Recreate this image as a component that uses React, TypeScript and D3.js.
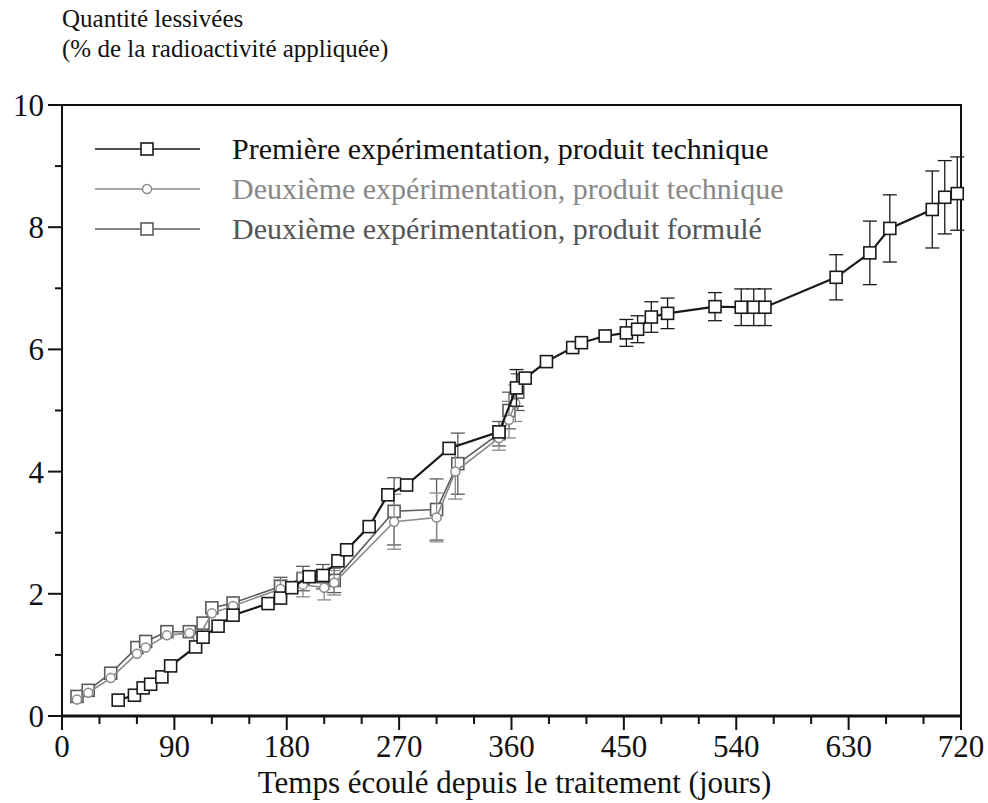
import React from "react";
import * as d3 from "d3";

// ---- data ----
const days1 = [45, 58, 65, 71, 80, 87, 107, 113, 125, 137, 165, 175, 184, 198, 209, 221, 228, 246, 261, 276, 310, 350, 364, 371, 388, 409, 416, 435, 452, 461, 472, 485, 523, 544, 554, 563, 620, 647, 663, 697, 707, 717];
const vals1 = [0.26, 0.34, 0.46, 0.52, 0.64, 0.82, 1.13, 1.29, 1.47, 1.65, 1.84, 1.93, 2.1, 2.28, 2.3, 2.54, 2.72, 3.1, 3.62, 3.78, 4.38, 4.65, 5.37, 5.53, 5.8, 6.03, 6.11, 6.22, 6.27, 6.33, 6.53, 6.59, 6.7, 6.69, 6.69, 6.69, 7.18, 7.58, 7.98, 8.29, 8.49, 8.55];
const errs1 = [0, 0, 0, 0, 0, 0, 0, 0, 0, 0, 0, 0, 0, 0, 0, 0, 0, 0, 0, 0, 0, 0, 0.3, 0, 0, 0, 0, 0, 0.22, 0.22, 0.25, 0.25, 0.23, 0.3, 0.3, 0.3, 0.37, 0.52, 0.55, 0.63, 0.6, 0.6];

const days2 = [12, 21, 39, 60, 67, 84, 102, 109, 120, 137, 175, 193, 210, 218, 266, 300, 315, 350, 358, 363];
const vals2 = [0.27, 0.38, 0.62, 1.02, 1.12, 1.32, 1.36, 1.28, 1.68, 1.8, 2.08, 2.15, 2.1, 2.18, 3.18, 3.25, 4.0, 4.55, 4.85, 5.12];
const errs2 = [0, 0, 0, 0, 0, 0, 0, 0, 0, 0, 0.15, 0.2, 0.2, 0.2, 0.45, 0.4, 0.45, 0.2, 0.3, 0.3];

const days3 = [12, 21, 39, 60, 67, 84, 102, 113, 120, 137, 175, 193, 209, 218, 266, 300, 317, 350, 358, 365];
const vals3 = [0.32, 0.42, 0.7, 1.12, 1.22, 1.38, 1.38, 1.52, 1.77, 1.85, 2.12, 2.25, 2.28, 2.22, 3.35, 3.38, 4.13, 4.62, 5.0, 5.3];
const errs3 = [0, 0, 0, 0, 0, 0, 0, 0, 0, 0, 0.15, 0.2, 0.2, 0.2, 0.55, 0.5, 0.5, 0.2, 0.3, 0.3];

const seriesNames = [
  "Première expérimentation, produit technique",
  "Deuxième expérimentation, produit technique",
  "Deuxième expérimentation, produit formulé",
];
const xTicks = [0, 90, 180, 270, 360, 450, 540, 630, 720];
const yTicks = [0, 2, 4, 6, 8, 10];
const yTitle = ["Quantité lessivées", "(% de la radioactivité appliquée)"];
const xTitle = "Temps écoulé depuis le traitement (jours)";

const FONT = "'Liberation Serif', Tinos, 'Noto Serif', 'DejaVu Serif', FreeSerif, 'Times New Roman', Times, serif";

export default function App() {
  const x = d3.scaleLinear().domain([0, 720]).range([62, 961]);
  const y = d3.scaleLinear().domain([0, 10]).range([716, 105]);
  const line = d3.line<[number, number]>().x((d) => x(d[0])).y((d) => y(d[1]));

  const series = [
    { d: days1, v: vals1, e: errs1, color: "#1a1a1a", text: "#111", shape: "square", lw: 2.2 },
    { d: days2, v: vals2, e: errs2, color: "#8a8a8a", text: "#888", shape: "circle", lw: 1.6 },
    { d: days3, v: vals3, e: errs3, color: "#5a5a5a", text: "#555", shape: "square", lw: 1.6 },
  ];

  const minor = d3.range(0, 721, 30);
  const minorY = d3.range(0, 11, 1);

  const marker = (shape: string, cx: number, cy: number, color: string, key: any) =>
    shape === "square" ? (
      <rect key={key} x={cx - 6} y={cy - 6} width={12} height={12} fill="#fff" stroke={color} strokeWidth={1.6} />
    ) : (
      <circle key={key} cx={cx} cy={cy} r={4.5} fill="#fff" stroke={color} strokeWidth={1.5} />
    );

  const order = [2, 1, 0];
  const ts = { fontFamily: FONT };

  return (
    <svg width={988} height={803} style={{ position: "absolute", left: 0, top: 0, background: "#fff", fontFamily: FONT }}>
      <rect x={0} y={0} width={988} height={803} fill="#fff" />
      {/* titles */}
      <text style={ts} x={62} y={27} fontSize={25} fill="#111">{yTitle[0]}</text>
      <text style={ts} x={62} y={57} fontSize={25} fill="#111">{yTitle[1]}</text>
      <text style={ts} x={(62 + 961) / 2 + 3} y={793} fontSize={31} textAnchor="middle" fill="#111">{xTitle}</text>

      {/* frame */}
      <rect x={62} y={105} width={899} height={611} fill="none" stroke="#111" strokeWidth={2} />
      <line x1={62} x2={961} y1={716} y2={716} stroke="#111" strokeWidth={3} />

      {/* x ticks */}
      {minor.map((t) => (
        <line key={"xt" + t} x1={x(t)} x2={x(t)} y1={716} y2={716 + (t % 90 === 0 ? 14 : 8)} stroke="#111" strokeWidth={2} />
      ))}
      {xTicks.map((t) => (
        <text style={ts} key={"xl" + t} x={x(t)} y={757} fontSize={31} textAnchor="middle" fill="#111">{t}</text>
      ))}
      {/* y ticks */}
      {minorY.map((t) => (
        <line key={"yt" + t} x1={62 - (t % 2 === 0 ? 14 : 7)} x2={62} y1={y(t)} y2={y(t)} stroke="#111" strokeWidth={2} />
      ))}
      {yTicks.map((t) => (
        <text style={ts} key={"yl" + t} x={44} y={y(t) + 11} fontSize={31} textAnchor="end" fill="#111">{t}</text>
      ))}

      {/* series */}
      {order.map((si) => {
        const s = series[si];
        const pts: [number, number][] = s.d.map((dd, i) => [dd, s.v[i]]);
        return (
          <g key={"s" + si}>
            {s.d.map((dd, i) =>
              s.e[i] > 0 ? (
                <g key={"e" + i} stroke={s.color} strokeWidth={1.3}>
                  <line x1={x(dd)} x2={x(dd)} y1={y(s.v[i] - s.e[i])} y2={y(s.v[i] + s.e[i])} />
                  <line x1={x(dd) - 7} x2={x(dd) + 7} y1={y(s.v[i] - s.e[i])} y2={y(s.v[i] - s.e[i])} />
                  <line x1={x(dd) - 7} x2={x(dd) + 7} y1={y(s.v[i] + s.e[i])} y2={y(s.v[i] + s.e[i])} />
                </g>
              ) : null
            )}
            <path d={line(pts) || ""} fill="none" stroke={s.color} strokeWidth={s.lw} />
            {pts.map((p, i) => marker(s.shape, x(p[0]), y(p[1]), s.color, i))}
          </g>
        );
      })}

      {/* legend */}
      {series.map((s, i) => {
        const ly = 149 + i * 40;
        return (
          <g key={"lg" + i}>
            <line x1={95} x2={200} y1={ly} y2={ly} stroke={s.color} strokeWidth={1.6} />
            {marker(s.shape, 147, ly, s.color, "m")}
            <text style={ts} x={232} y={ly + 10} fontSize={30} fill={s.text}>{seriesNames[i]}</text>
          </g>
        );
      })}
    </svg>
  );
}
